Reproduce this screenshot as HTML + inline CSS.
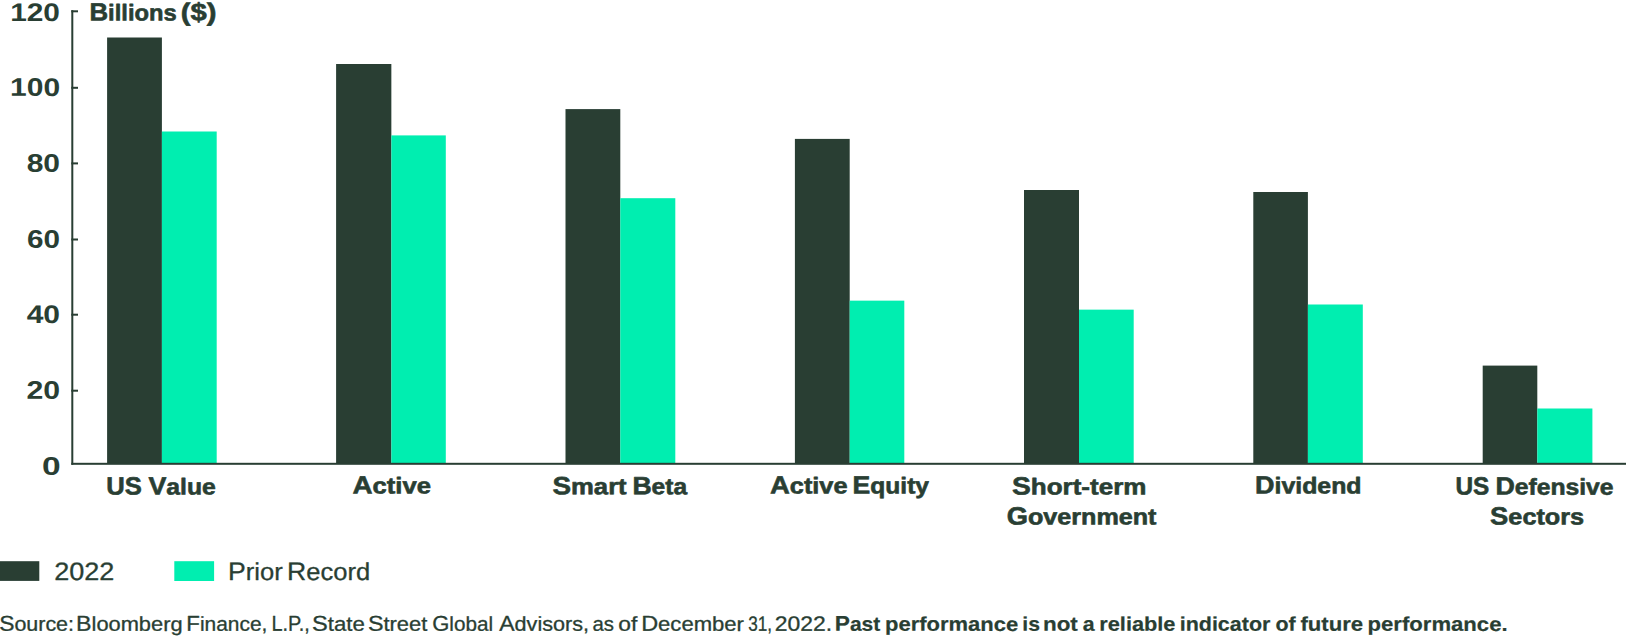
<!DOCTYPE html>
<html lang="en"><head><meta charset="utf-8"><title>ETF flows: 2022 vs prior record</title>
<style>
html,body{margin:0;padding:0;background:#fff;}
body{width:1626px;height:638px;overflow:hidden;}
svg{display:block;font-family:"Liberation Sans",Arial,sans-serif;text-rendering:geometricPrecision;}
</style></head><body>
<svg width="1626" height="638" viewBox="0 0 1626 638" role="img" aria-label="Bar chart: 2022 flows versus prior record, Billions ($)">
<rect width="1626" height="638" fill="#ffffff"/>
<g>
<rect x="107.10" y="37.50" width="54.80" height="426.50" fill="#293e33"/>
<rect x="161.90" y="131.50" width="54.80" height="332.50" fill="#00eeb0"/>
<rect x="336.10" y="64.00" width="55.25" height="400.00" fill="#293e33"/>
<rect x="391.35" y="135.40" width="54.45" height="328.60" fill="#00eeb0"/>
<rect x="565.50" y="109.10" width="54.80" height="354.90" fill="#293e33"/>
<rect x="620.30" y="198.20" width="55.00" height="265.80" fill="#00eeb0"/>
<rect x="794.90" y="138.90" width="54.80" height="325.10" fill="#293e33"/>
<rect x="849.70" y="300.65" width="54.60" height="163.35" fill="#00eeb0"/>
<rect x="1024.00" y="190.00" width="55.00" height="274.00" fill="#293e33"/>
<rect x="1079.00" y="309.65" width="54.70" height="154.35" fill="#00eeb0"/>
<rect x="1253.30" y="192.00" width="54.60" height="272.00" fill="#293e33"/>
<rect x="1307.90" y="304.50" width="54.90" height="159.50" fill="#00eeb0"/>
<rect x="1482.70" y="365.60" width="54.60" height="98.40" fill="#293e33"/>
<rect x="1537.30" y="408.50" width="55.10" height="55.50" fill="#00eeb0"/>
</g>
<g fill="#293e33">
<rect x="71.3" y="10.2" width="2.0" height="454.6"/>
<rect x="71.3" y="462.8" width="1554.7" height="2.0"/>
<rect x="71.3" y="10.30" width="6.7" height="2.0"/>
<rect x="71.3" y="86.80" width="6.7" height="2.0"/>
<rect x="71.3" y="162.40" width="6.7" height="2.0"/>
<rect x="71.3" y="238.50" width="6.7" height="2.0"/>
<rect x="71.3" y="313.70" width="6.7" height="2.0"/>
<rect x="71.3" y="389.70" width="6.7" height="2.0"/>
</g>
<rect x="0" y="561.2" width="39.3" height="19.7" fill="#293e33"/>
<rect x="174.3" y="561.2" width="39.8" height="19.8" fill="#00eeb0"/>
<g fill="#293e33" stroke="#293e33" stroke-linejoin="round">
<text transform="translate(10.20,20.90) rotate(0.05) scale(1.1745,1)" font-size="25.4" font-weight="700" stroke-width="0">120</text>
<text transform="translate(10.03,95.85) rotate(0.05) scale(1.1810,1)" font-size="25.4" font-weight="700" stroke-width="0">100</text>
<text transform="translate(26.68,171.75) rotate(0.05) scale(1.1813,1)" font-size="25.4" font-weight="700" stroke-width="0">80</text>
<text transform="translate(26.89,247.65) rotate(0.05) scale(1.1678,1)" font-size="25.4" font-weight="700" stroke-width="0">60</text>
<text transform="translate(26.64,322.90) rotate(0.05) scale(1.1815,1)" font-size="25.4" font-weight="700" stroke-width="0">40</text>
<text transform="translate(26.55,398.65) rotate(0.05) scale(1.1903,1)" font-size="25.4" font-weight="700" stroke-width="0">20</text>
<text transform="translate(41.95,474.75) rotate(0.05) scale(1.3171,1)" font-size="25.4" font-weight="700" stroke-width="0">0</text>
<text transform="translate(89.52,20.50) rotate(0.05) scale(1.0358,1)" font-size="24.85" font-weight="700" stroke-width="0.6">B<tspan font-size="22.9">illions</tspan></text>
<text transform="translate(180.68,20.50) rotate(0.05) scale(1.1752,1)" font-size="24.85" font-weight="700" stroke-width="0.6">($)</text>
<text transform="translate(106.34,494.40) rotate(0.05) scale(1.0302,1)" font-size="24.85" font-weight="700" stroke-width="0.6">US</text>
<text transform="translate(148.43,494.40) rotate(0.05) scale(1.0790,1)" font-size="24.85" font-weight="700" stroke-width="0.6">V<tspan font-size="22.9">alue</tspan></text>
<text transform="translate(352.43,493.50) rotate(0.05) scale(1.1190,1)" font-size="24.85" font-weight="700" stroke-width="0.6">A<tspan font-size="22.9">ctive</tspan></text>
<text transform="translate(552.44,494.20) rotate(0.05) scale(1.1214,1)" font-size="24.85" font-weight="700" stroke-width="0.6">S<tspan font-size="22.9">mart</tspan></text>
<text transform="translate(632.38,494.20) rotate(0.05) scale(1.0704,1)" font-size="24.85" font-weight="700" stroke-width="0.6">B<tspan font-size="22.9">eta</tspan></text>
<text transform="translate(769.93,493.50) rotate(0.05) scale(1.1066,1)" font-size="24.85" font-weight="700" stroke-width="0.6">A<tspan font-size="22.9">ctive</tspan></text>
<text transform="translate(852.61,493.50) rotate(0.05) scale(1.0710,1)" font-size="24.85" font-weight="700" stroke-width="0.6">E<tspan font-size="22.9">quity</tspan></text>
<text transform="translate(1011.98,494.40) rotate(0.05) scale(1.1360,1)" font-size="24.85" font-weight="700" stroke-width="0.6">S<tspan font-size="22.9">hort-term</tspan></text>
<text transform="translate(1006.75,524.50) rotate(0.05) scale(1.0982,1)" font-size="24.85" font-weight="700" stroke-width="0.6">G<tspan font-size="22.9">overnment</tspan></text>
<text transform="translate(1255.08,493.40) rotate(0.05) scale(1.0852,1)" font-size="24.85" font-weight="700" stroke-width="0.6">D<tspan font-size="22.9">ividend</tspan></text>
<text transform="translate(1455.43,494.60) rotate(0.05) scale(0.9791,1)" font-size="24.85" font-weight="700" stroke-width="0.6">US</text>
<text transform="translate(1495.38,494.60) rotate(0.05) scale(1.0782,1)" font-size="24.85" font-weight="700" stroke-width="0.6">D<tspan font-size="22.9">efensive</tspan></text>
<text transform="translate(1490.09,524.50) rotate(0.05) scale(1.1029,1)" font-size="24.85" font-weight="700" stroke-width="0.6">S<tspan font-size="22.9">ectors</tspan></text>
<text transform="translate(54.20,579.90) rotate(0.05) scale(1.0746,1)" font-size="25.2" font-weight="400" stroke-width="0.3">2022</text>
<text transform="translate(228.06,579.90) rotate(0.05) scale(1.0474,1)" font-size="25.4" font-weight="400" stroke-width="0.3">P<tspan font-size="24.4">rior</tspan></text>
<text transform="translate(287.12,579.90) rotate(0.05) scale(1.0467,1)" font-size="25.4" font-weight="400" stroke-width="0.3">R<tspan font-size="24.4">ecord</tspan></text>
<text transform="translate(-0.84,630.80) rotate(0.05) scale(1.0648,1)" font-size="21.45" font-weight="400" stroke-width="0.3">S<tspan font-size="20.15">ource:</tspan></text>
<text transform="translate(76.02,630.80) rotate(0.05) scale(1.0843,1)" font-size="21.45" font-weight="400" stroke-width="0.3">B<tspan font-size="20.15">loomberg</tspan></text>
<text transform="translate(186.31,630.80) rotate(0.05) scale(1.0392,1)" font-size="21.45" font-weight="400" stroke-width="0.3">F<tspan font-size="20.15">inance,</tspan></text>
<text transform="translate(271.50,630.80) rotate(0.05) scale(0.9275,1)" font-size="21.45" font-weight="400" stroke-width="0.3">L.P.,</text>
<text transform="translate(312.00,630.80) rotate(0.05) scale(1.1018,1)" font-size="21.45" font-weight="400" stroke-width="0.3">S<tspan font-size="20.15">tate</tspan></text>
<text transform="translate(367.94,630.80) rotate(0.05) scale(1.0869,1)" font-size="21.45" font-weight="400" stroke-width="0.3">S<tspan font-size="20.15">treet</tspan></text>
<text transform="translate(432.22,630.80) rotate(0.05) scale(1.0261,1)" font-size="21.45" font-weight="400" stroke-width="0.3">G<tspan font-size="20.15">lobal</tspan></text>
<text transform="translate(499.23,630.80) rotate(0.05) scale(1.0725,1)" font-size="21.45" font-weight="400" stroke-width="0.3">A<tspan font-size="20.15">dvisors,</tspan></text>
<text transform="translate(592.38,630.80) rotate(0.05) scale(1.0125,1)" font-size="20.15" font-weight="400" stroke-width="0.3">as</text>
<text transform="translate(618.36,630.80) rotate(0.05) scale(1.1313,1)" font-size="20.15" font-weight="400" stroke-width="0.3">of</text>
<text transform="translate(641.15,630.80) rotate(0.05) scale(1.0950,1)" font-size="21.45" font-weight="400" stroke-width="0.3">D<tspan font-size="20.15">ecember</tspan></text>
<text transform="translate(748.23,630.80) rotate(0.05) scale(0.8286,1)" font-size="20.7" font-weight="400" stroke-width="0.3">31,</text>
<text transform="translate(774.80,630.80) rotate(0.05) scale(1.1065,1)" font-size="20.7" font-weight="400" stroke-width="0.3">2022.</text>
<text transform="translate(834.76,630.80) rotate(0.05) scale(1.0623,1)" font-size="21.4" font-weight="700" stroke-width="0.2">P<tspan font-size="19.8">ast</tspan></text>
<text transform="translate(885.02,630.80) rotate(0.05) scale(1.1106,1)" font-size="19.8" font-weight="700" stroke-width="0.2">performance</text>
<text transform="translate(1022.23,630.80) rotate(0.05) scale(1.0727,1)" font-size="19.8" font-weight="700" stroke-width="0.2">is</text>
<text transform="translate(1042.94,630.80) rotate(0.05) scale(1.1326,1)" font-size="19.8" font-weight="700" stroke-width="0.2">not</text>
<text transform="translate(1082.81,630.80) rotate(0.05) scale(1.0784,1)" font-size="19.8" font-weight="700" stroke-width="0.2">a</text>
<text transform="translate(1099.29,630.80) rotate(0.05) scale(1.0992,1)" font-size="19.8" font-weight="700" stroke-width="0.2">reliable</text>
<text transform="translate(1179.72,630.80) rotate(0.05) scale(1.0850,1)" font-size="19.8" font-weight="700" stroke-width="0.2">indicator</text>
<text transform="translate(1275.53,630.80) rotate(0.05) scale(1.0822,1)" font-size="19.8" font-weight="700" stroke-width="0.2">of</text>
<text transform="translate(1300.46,630.80) rotate(0.05) scale(1.1191,1)" font-size="19.8" font-weight="700" stroke-width="0.2">future</text>
<text transform="translate(1367.57,630.80) rotate(0.05) scale(1.1172,1)" font-size="19.8" font-weight="700" stroke-width="0.2">performance.</text>
</g>
</svg>
</body></html>
